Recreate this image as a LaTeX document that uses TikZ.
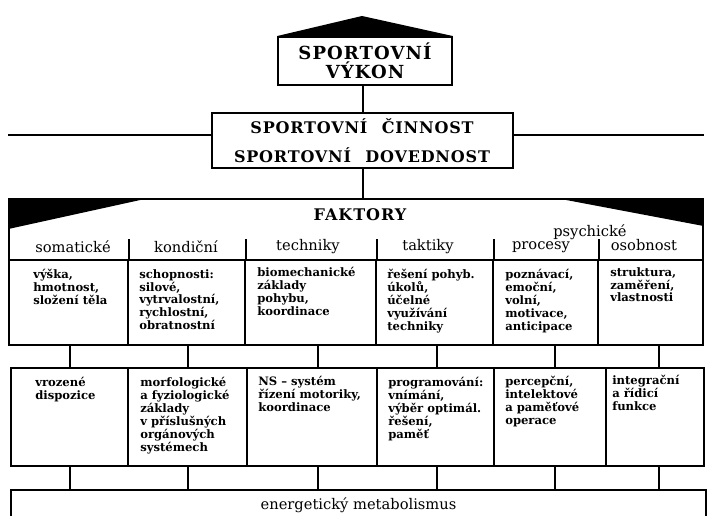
\documentclass[tikz,border=0pt]{standalone}
\usepackage{fontspec}
\setmainfont{DejaVu Serif}

\begin{document}
\begin{tikzpicture}[
  x=0.75pt, y=-0.75pt,
  box/.style     = {draw, line width=1.4pt, inner sep=0pt},
  sz/.style 2 args = {minimum width=#1*0.75pt, minimum height=#2*0.75pt},
  title/.style   = {font=\fontsize{13.5}{14}\selectfont\bfseries\addfontfeatures{LetterSpace=6},
                    align=center, inner sep=0pt},
  title2/.style  = {font=\fontsize{12}{11}\selectfont\bfseries\addfontfeatures{LetterSpace=5},
                    inner sep=0pt},
  cat/.style     = {font=\fontsize{11}{11}\selectfont, inner sep=0pt},
  txt/.style     = {font=\fontsize{8.7}{9.7}\selectfont\bfseries, align=left,
                    anchor=north west, inner sep=0pt},
  conn/.style    = {line width=1.4pt},
]
\useasboundingbox (0,0) rectangle (711,516);
\clip (0,0) rectangle (711,516);

%%────────── top: performance, activity ──────────────────────
\coordinate (apex) at (362,16);
\coordinate (axis) at (363,0);
\coordinate (lvl)  at (0,135);

\node[box, sz={174}{48}, title] (vykon) at (365,61)
  {SPORTOVNÍ\\VÝKON};
\fill (vykon.north west) -- (apex) -- (vykon.north east) -- cycle;

\node[box, sz={301}{55}] (cinnost) at (362.5,140.5) {};
\node[title2] (cin) at (362,126) {SPORTOVNÍ\hspace{0.9em}ČINNOST};
\node[title2] (dov) at (362,155) {SPORTOVNÍ\hspace{0.9em}DOVEDNOST};

%%────────── FAKTORY panel ───────────────────────────────────
\node[box, sz={694}{61}] (head) at (356,229.5) {};
\fill (head.north west) -- ++(141,0) -- ++(-141,31) -- cycle;
\fill (head.north east) -- ++(-148,0) -- ++(148,28) -- cycle;

\draw[conn] (vykon.south -| axis)   -- (cinnost.north -| axis);
\draw[conn] (cinnost.south -| axis) -- (head.north -| axis);
\draw[conn] (cinnost.west |- lvl)   -- (head.west |- lvl);
\draw[conn] (cinnost.east |- lvl)   -- (head.east |- lvl);

\node[font=\fontsize{12}{11}\selectfont\bfseries\addfontfeatures{LetterSpace=6},
      inner sep=0pt] (faktory) at (360,215) {FAKTORY};
\node[cat] (psy) at (590,232) {psychické};

% first row of cells
\node[box, sz={119}{85}] (s1) at (68.5,302.5)  {};
\node[box, sz={117}{85}] (s2) at (186.5,302.5) {};
\node[box, sz={131}{85}] (s3) at (310.5,302.5) {};
\node[box, sz={117}{85}] (s4) at (434.5,302.5) {};
\node[box, sz={105}{85}] (s5) at (545.5,302.5) {};
\node[box, sz={105}{85}] (s6) at (650.5,302.5) {};
\foreach \i in {1,...,5}
  \draw[conn] (s\i.north east) -- ++(0,-20);

\node[cat] (c1) at (73,247)  {somatické};
\node[cat] (c2) at (186,247) {kondiční};
\node[cat] (c3) at (308,247) {techniky};
\node[cat] (c4) at (428,247) {taktiky};
\node[cat] (c5) at (541,247) {procesy};
\node[cat] (c6) at (644,245) {osobnost};

\node[txt] (t1) at (33,269)  {výška,\\hmotnost,\\složení těla};
\node[txt] (t2) at (139,269) {schopnosti:\\silové,\\vytrvalostní,\\rychlostní,\\obratnostní};
\node[txt] (t3) at (257,267) {biomechanické\\základy\\pohybu,\\koordinace};
\node[txt] (t4) at (387,269) {řešení pohyb.\\úkolů,\\účelné\\využívání\\techniky};
\node[txt] (t5) at (505,269) {poznávací,\\emoční,\\volní,\\motivace,\\anticipace};
\node[txt] (t6) at (610,267) {struktura,\\zaměření,\\vlastnosti};

%%────────── second row ──────────────────────────────────────
\node[box, sz={117}{98}] (d1) at (69.5,417)  {};
\node[box, sz={119}{98}] (d2) at (187.5,417) {};
\node[box, sz={130}{98}] (d3) at (312,417)   {};
\node[box, sz={117}{98}] (d4) at (435.5,417) {};
\node[box, sz={112}{98}] (d5) at (550,417)   {};
\node[box, sz={98}{98}]  (d6) at (655,417)   {};

\node[txt] (u1) at (35,377)  {vrozené\\dispozice};
\node[txt] (u2) at (140,377) {morfologické\\a fyziologické\\základy\\v příslušných\\orgánových\\systémech};
\node[txt] (u3) at (258,376) {NS – systém\\řízení motoriky,\\koordinace};
\node[txt] (u4) at (388,377) {programování:\\vnímání,\\výběr optimál.\\řešení,\\paměť};
\node[txt] (u5) at (505,376) {percepční,\\intelektové\\a paměťové\\operace};
\node[txt] (u6) at (612,375) {integrační\\a řídicí\\funkce};

%%────────── energy base ─────────────────────────────────────
\node[box, sz={695}{30}, font=\fontsize{11}{11}\selectfont] (energy) at (358.5,505)
  {energetický metabolismus};

\coordinate (k1) at (70,0);
\coordinate (k2) at (188,0);
\coordinate (k3) at (318,0);
\coordinate (k4) at (437,0);
\coordinate (k5) at (555,0);
\coordinate (k6) at (659,0);
\foreach \i in {1,...,6} {
  \draw[conn] (s\i.south -| k\i) -- (d\i.north -| k\i);
  \draw[conn] (d\i.south -| k\i) -- (energy.north -| k\i);
}

\end{tikzpicture}
\end{document}
